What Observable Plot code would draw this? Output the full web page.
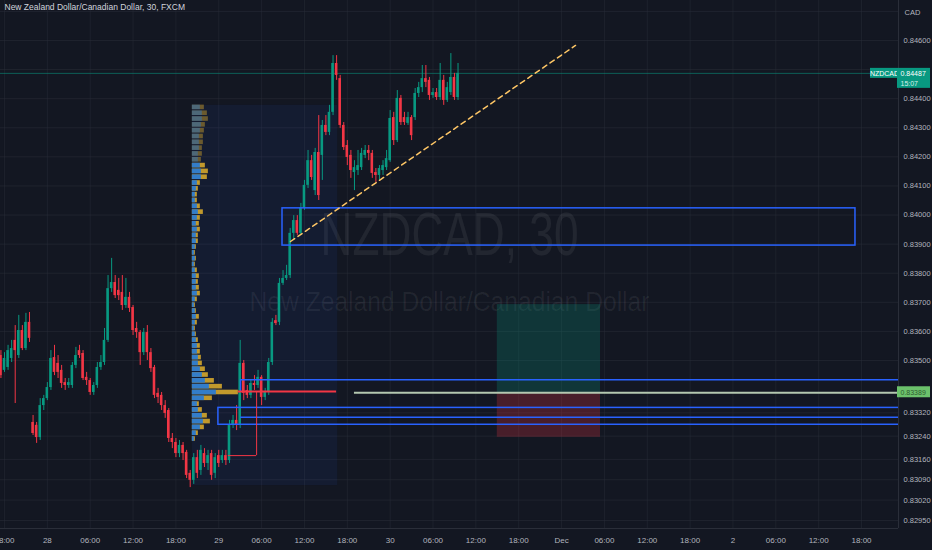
<!DOCTYPE html>
<html><head><meta charset="utf-8">
<script src="https://cdn.jsdelivr.net/npm/d3@7"></script>
<script src="https://cdn.jsdelivr.net/npm/@observablehq/plot@0.6"></script>
<style>
html,body{margin:0;padding:0;background:#131722;}
#chart{width:932px;height:550px;overflow:hidden;}
</style></head><body><div id="chart"></div>
<script>
// ---- Data (NZDCAD, 30 min, FXCM) ----
const title = "New Zealand Dollar/Canadian Dollar, 30, FXCM";
const symbol = "NZDCAD";
const watermark1 = "NZDCAD, 30";
const watermark2 = "New Zealand Dollar/Canadian Dollar";
const currency = "CAD";
const lastPrice = 0.84487;
const countdown = "15:07";
const firstBar = -1; // bar index of first candle (bar 0 = 25 Nov 18:00)

const opens = [
0.83517,0.83466,0.83476,0.83507,0.83569,0.83517,0.83603,0.83541,0.83631,0.83287,
0.83277,0.83235,0.83345,0.83369,0.83407,0.83510,0.83490,0.83466,0.83424,0.83414,
0.83414,0.83483,0.83534,0.83524,0.83442,0.83431,0.83390,0.83414,0.83476,0.83493,
0.83569,0.83747,0.83768,0.83741,0.83734,0.83689,0.83717,0.83682,0.83610,0.83596,
0.83527,0.83596,0.83527,0.83476,0.83387,0.83380,0.83345,0.83328,0.83232,0.83218,
0.83180,0.83208,0.83184,0.83112,0.83088,0.83166,0.83122,0.83180,0.83146,0.83180,
0.83112,0.83173,0.83156,0.83173,0.83156,0.83277,0.83294,0.83277,0.83490,0.83397,
0.83380,0.83421,0.83414,0.83442,0.83373,0.83390,0.83493,0.83637,0.83631,0.83765,
0.83782,0.83792,0.83937,0.83981,0.83937,0.84023,0.84102,0.84187,0.84084,0.84215,
0.84205,0.84308,0.84284,0.84353,0.84521,0.84469,0.84308,0.84239,0.84205,0.84146,
0.84153,0.84163,0.84205,0.84222,0.84212,0.84146,0.84136,0.84153,0.84163,0.84187,
0.84335,0.84256,0.84401,0.84335,0.84315,0.84335,0.84335,0.84418,0.84438,0.84469,
0.84463,0.84411,0.84421,0.84404,0.84463,0.84394,0.84421,0.84473,0.84404];
const closes = [
0.83448,0.83507,0.83534,0.83541,0.83534,0.83603,0.83541,0.83631,0.83576,0.83249,
0.83235,0.83345,0.83369,0.83407,0.83507,0.83459,0.83459,0.83421,0.83414,0.83424,
0.83483,0.83517,0.83517,0.83438,0.83431,0.83390,0.83414,0.83476,0.83493,0.83569,
0.83747,0.83768,0.83723,0.83723,0.83689,0.83717,0.83679,0.83603,0.83596,0.83527,
0.83596,0.83527,0.83472,0.83380,0.83373,0.83345,0.83318,0.83232,0.83218,0.83180,
0.83208,0.83180,0.83105,0.83088,0.83166,0.83112,0.83191,0.83146,0.83173,0.83105,
0.83166,0.83146,0.83173,0.83156,0.83277,0.83294,0.83277,0.83490,0.83387,0.83380,
0.83421,0.83414,0.83442,0.83373,0.83390,0.83493,0.83631,0.83627,0.83765,0.83782,
0.83792,0.83937,0.83981,0.83937,0.84023,0.84102,0.84187,0.84129,0.84215,0.84067,
0.84308,0.84284,0.84353,0.84521,0.84480,0.84308,0.84232,0.84198,0.84153,0.84163,
0.84170,0.84212,0.84222,0.84212,0.84143,0.84136,0.84160,0.84170,0.84194,0.84332,
0.84256,0.84401,0.84318,0.84318,0.84335,0.84273,0.84418,0.84438,0.84469,0.84456,
0.84411,0.84421,0.84404,0.84463,0.84394,0.84438,0.84473,0.84404,0.84487];
const highs = [
0.83534,0.83527,0.83552,0.83569,0.83620,0.83655,0.83620,0.83662,0.83665,0.83311,
0.83287,0.83369,0.83380,0.83424,0.83534,0.83552,0.83517,0.83483,0.83438,0.83438,
0.83493,0.83545,0.83552,0.83534,0.83459,0.83438,0.83424,0.83493,0.83517,0.83610,
0.83792,0.83851,0.83792,0.83782,0.83792,0.83782,0.83734,0.83689,0.83631,0.83603,
0.83610,0.83620,0.83541,0.83483,0.83404,0.83390,0.83362,0.83335,0.83249,0.83232,
0.83225,0.83218,0.83191,0.83122,0.83180,0.83191,0.83208,0.83197,0.83191,0.83191,
0.83180,0.83191,0.83191,0.83191,0.83294,0.83311,0.83345,0.83569,0.83500,0.83414,
0.83431,0.83448,0.83466,0.83448,0.83404,0.83507,0.83644,0.83655,0.83782,0.83809,
0.83827,0.83954,0.83998,0.83998,0.84040,0.84119,0.84222,0.84205,0.84229,0.84342,
0.84325,0.84342,0.84377,0.84548,0.84548,0.84480,0.84318,0.84256,0.84222,0.84187,
0.84222,0.84229,0.84239,0.84239,0.84222,0.84160,0.84170,0.84187,0.84222,0.84359,
0.84353,0.84428,0.84411,0.84353,0.84353,0.84342,0.84435,0.84456,0.84514,0.84514,
0.84473,0.84435,0.84435,0.84521,0.84480,0.84456,0.84555,0.84487,0.84521];
const lows = [
0.83438,0.83459,0.83466,0.83493,0.83352,0.83507,0.83534,0.83534,0.83562,0.83242,
0.83215,0.83225,0.83328,0.83362,0.83397,0.83448,0.83438,0.83404,0.83397,0.83404,
0.83404,0.83472,0.83507,0.83431,0.83414,0.83380,0.83380,0.83404,0.83466,0.83483,
0.83562,0.83734,0.83713,0.83706,0.83672,0.83679,0.83665,0.83586,0.83576,0.83483,
0.83517,0.83500,0.83459,0.83369,0.83352,0.83328,0.83301,0.83218,0.83197,0.83166,
0.83166,0.83156,0.83094,0.83063,0.83074,0.83094,0.83105,0.83132,0.83122,0.83088,
0.83094,0.83132,0.83146,0.83139,0.83146,0.83266,0.83259,0.83266,0.83362,0.83369,
0.83369,0.83397,0.83404,0.83345,0.83362,0.83380,0.83483,0.83620,0.83620,0.83758,
0.83775,0.83782,0.83913,0.83930,0.83930,0.84016,0.84091,0.84119,0.84067,0.84050,
0.84119,0.84273,0.84273,0.84342,0.84463,0.84298,0.84222,0.84170,0.84126,0.84084,
0.84136,0.84153,0.84194,0.84187,0.84126,0.84112,0.84119,0.84136,0.84153,0.84181,
0.84239,0.84249,0.84308,0.84308,0.84308,0.84256,0.84325,0.84404,0.84421,0.84438,
0.84394,0.84401,0.84394,0.84394,0.84377,0.84387,0.84411,0.84394,0.84394];

// x axis (bar index -> label)
const timeTickBars = [0,12,24,36,48,60,72,84,96,108,120,132,144,156,168,180,192,204,216,228,240];
const timeTickLabels = ["18:00","28","06:00","12:00","18:00","29","06:00","12:00","18:00","30","06:00","12:00","18:00","Dec","06:00","12:00","18:00","2","06:00","12:00","18:00"];
// price axis
const priceGrid = [0.847,0.846,0.845,0.844,0.843,0.842,0.841,0.840,0.839,0.838,0.837,0.836,0.835,0.8332,0.8324,0.8316,0.8309,0.8302,0.8295];
const priceLabels = [0.846,0.844,0.843,0.842,0.841,0.840,0.839,0.838,0.837,0.836,0.835,0.8332,0.8324,0.8316,0.8309,0.8302,0.8295];

// Visible range volume profile
const vpRange = {startBar: 52.6, endBar: 93.3, low: 0.83070, high: 0.84377};
const vpLevels = [0.84370,0.84350,0.84330,0.84310,0.84290,0.84270,0.84250,0.84230,0.84210,0.84190,
0.84170,0.84150,0.84130,0.84110,0.84090,0.84070,0.84050,0.84030,0.84010,0.83990,
0.83970,0.83950,0.83930,0.83910,0.83890,0.83870,0.83850,0.83830,0.83810,0.83790,
0.83770,0.83750,0.83730,0.83710,0.83690,0.83670,0.83650,0.83630,0.83610,0.83590,
0.83570,0.83550,0.83530,0.83510,0.83490,0.83470,0.83450,0.83430,0.83410,0.83390,
0.83370,0.83350,0.83330,0.83310,0.83290,0.83270,0.83250,0.83230];
const vpTotal = [12,15,16,13,12,11,11,10,10,9,13,16,15,8,6,5,5,8,11,8,7,8,6,6,4,3,4,3,5,7,6,7,8,5,3,4,7,5,3,4,6,8,8,9,10,13,16,22,30,46,20,7,10,15,18,12,6,3];
const vpUp    = [8,10,10,9,8,7,7,7,6,6,8,9,9,5,4,3,3,5,6,5,4,5,4,4,3,2,3,2,3,4,4,4,5,3,2,3,4,3,2,3,4,5,5,6,6,8,10,13,17,24,12,5,6,10,11,8,4,2];
const vpValueAreaHigh = 0.84180;
const vpPoc = 0.83393;

// Drawings
const zoneBox = {bar1: 77.85, bar2: 238.3, low: 0.83895, high: 0.84023};
const trendLine = [{bar: 80.1, price: 0.83909}, {bar: 159.9, price: 0.84583}];
const longPos = {bar1: 138, bar2: 166.9, target: 0.83692, entry: 0.83389, stop: 0.83236};
const entryLineStartBar = 98;
const blueLevels = [{price: 0.83434, bar: 66.1}, {price: 0.83305, bar: 66.1}];
const demandBox = {bar1: 59.9, low: 0.83279, high: 0.83337};
const pocLine = {bar1: 65.5, bar2: 93};
const devPoc = {bar1: 62.7, bar2: 70.6, price: 0.83173};

// ---- Build ----
const xMin = -1.12, xMax = 250.35;
const candles = opens.map((o, i) => ({bar: firstBar + i, open: o, high: highs[i], low: lows[i], close: closes[i]}));
const up = "#089981", down = "#f23645";
const col = d => d.close >= d.open ? up : down;
const vpMax = d3.max(vpTotal), vpWidthBars = 12.9;
const vp = vpLevels.map((p, i) => ({p, total: vpTotal[i], up: vpUp[i], dim: p > vpValueAreaHigh}));
const vpX = v => vpRange.startBar + v / vpMax * vpWidthBars;
const blue = "#2962ff";
const font = "'Liberation Sans Narrow','Arial Narrow','Liberation Sans',Arial,sans-serif";

const plot = Plot.plot({
  width: 932, height: 550,
  marginLeft: 0, marginRight: 34, marginTop: 0, marginBottom: 22,
  style: {background: "#131722", color: "#b2b5be", fontFamily: font, fontSize: "8px", overflow: "visible"},
  x: {domain: [xMin, xMax], axis: null},
  y: {domain: [0.829224, 0.847375], axis: null},
  marks: [
    Plot.gridY(priceGrid, {stroke: "#2a2e39", strokeOpacity: 0.55}),
    Plot.gridX(timeTickBars, {stroke: "#2a2e39", strokeOpacity: 0.45}),
    // watermark
    Plot.text([watermark1], {frameAnchor: "middle", dy: -29, fontSize: 62, fill: "#ffffff", fillOpacity: 0.065, className: "wm1"}),
    Plot.text([watermark2], {frameAnchor: "middle", dy: 38, fontSize: 28, fill: "#ffffff", fillOpacity: 0.065, className: "wm2"}),
    // volume profile background
    Plot.rect([vpRange], {x1: "startBar", x2: "endBar", y1: "low", y2: "high", fill: blue, fillOpacity: 0.07}),
    // long position
    Plot.rect([longPos], {x1: "bar1", x2: "bar2", y1: "entry", y2: "target", fill: up, fillOpacity: 0.24}),
    Plot.rect([longPos], {x1: "bar1", x2: "bar2", y1: "stop", y2: "entry", fill: down, fillOpacity: 0.24}),
    // volume profile rows
    Plot.rect(vp, {x1: vpRange.startBar, x2: d => vpX(d.total), y1: d => d.p - 0.0001, y2: d => d.p + 0.0001, insetTop: 0.6, insetBottom: 0.6, fill: "#d4a72c", fillOpacity: d => d.dim ? 0.45 : 0.9}),
    Plot.rect(vp, {x1: vpRange.startBar, x2: d => vpX(d.up), y1: d => d.p - 0.0001, y2: d => d.p + 0.0001, insetTop: 0.6, insetBottom: 0.6, fill: "#2b7bd2", fillOpacity: d => d.dim ? 0.45 : 0.95}),
    // current price line
    Plot.ruleY([lastPrice], {stroke: up, strokeOpacity: 0.55, strokeWidth: 1}),
    // candles
    Plot.ruleX(candles, {x: "bar", y1: "low", y2: "high", stroke: col, strokeWidth: 1}),
    Plot.rect(candles, {x1: d => d.bar - 0.36, x2: d => d.bar + 0.36, y1: "open", y2: "close", fill: col}),
    // drawings
    Plot.rect([zoneBox], {x1: "bar1", x2: "bar2", y1: "low", y2: "high", stroke: blue, strokeWidth: 1.5, fill: "none"}),
    Plot.line(trendLine, {x: "bar", y: "price", stroke: "#ffc766", strokeWidth: 1.5, strokeDasharray: "5,4"}),
    Plot.ruleY(blueLevels, {y: "price", x1: "bar", x2: xMax, stroke: blue, strokeWidth: 1.5}),
    Plot.rect([demandBox], {x1: "bar1", x2: xMax + 5, y1: "low", y2: "high", stroke: blue, strokeWidth: 1.5, fill: "none", clip: true}),
    Plot.ruleX([blueLevels[0]], {x: "bar", y1: vpPoc, y2: "price", stroke: blue, strokeWidth: 1.5}),
    Plot.ruleY([devPoc], {y: "price", x1: "bar1", x2: "bar2", stroke: down, strokeWidth: 1}),
    Plot.ruleX([devPoc], {x: "bar2", y1: "price", y2: vpPoc, stroke: down, strokeWidth: 1}),
    Plot.ruleY([pocLine], {y: vpPoc, x1: "bar1", x2: "bar2", stroke: down, strokeWidth: 2}),
    Plot.ruleY([longPos], {y: "entry", x1: entryLineStartBar, x2: xMax, stroke: "#b4c8b0", strokeWidth: 2}),
    // price scale border
    Plot.ruleX([xMax], {stroke: "#2a2e39"}),
    Plot.ruleY([0.829224], {stroke: "#2a2e39"}),
    // axes
    Plot.axisX(timeTickBars, {anchor: "bottom", tickSize: 0, tickPadding: 9, tickFormat: (d, i) => timeTickLabels[i], fill: "#b2b5be"}),
    Plot.axisY(priceLabels, {anchor: "right", tickSize: 0, tickPadding: 5, tickFormat: d => d.toFixed(5), fill: "#b2b5be", fontSize: 7.5}),
    Plot.text([currency], {x: xMax, frameAnchor: "top", dy: 9, dx: 6, textAnchor: "start", fill: "#b2b5be", fontSize: 7.5}),
    // price labels on scale
    Plot.rect([lastPrice], {x1: xMax, x2: xMax, y1: d => d, y2: d => d, insetLeft: -28, insetRight: 1, insetTop: -5, insetBottom: -5, fill: up}),
    Plot.text([symbol], {x: xMax, y: d => lastPrice, dx: -14, fill: "#ffffff", fontSize: 7}),
    Plot.rect([lastPrice], {x1: xMax, x2: xMax, y1: d => d, y2: d => d, insetLeft: -1, insetRight: -32, insetTop: -5, insetBottom: -15, fill: up}),
    Plot.text([lastPrice], {x: xMax, y: d => d, dx: 2, textAnchor: "start", text: d => d.toFixed(5), fill: "#ffffff", fontSize: 7}),
    Plot.text([countdown], {x: xMax, y: d => lastPrice, dx: 2, dy: 10, textAnchor: "start", fill: "#d8efe9", fontSize: 7}),
    Plot.rect([longPos], {x1: xMax, x2: xMax, y1: "entry", y2: "entry", insetLeft: -1, insetRight: -32, insetTop: -6, insetBottom: -5, fill: "#6cc26c"}),
    Plot.text([longPos], {x: xMax, y: "entry", dx: 2, textAnchor: "start", text: d => d.entry.toFixed(5), fill: "#2f5a2f", fontSize: 7}),
    // title
    Plot.text([title], {frameAnchor: "top-left", dx: 4, dy: 7, textAnchor: "start", lineAnchor: "middle", fill: "#d1d4dc", fontSize: 8.5})
  ]
});
const svg = d3.select(plot);
svg.selectAll(".wm1 text").attr("textLength", 258).attr("lengthAdjust", "spacingAndGlyphs");
svg.selectAll(".wm2 text").attr("textLength", 400).attr("lengthAdjust", "spacingAndGlyphs");
document.getElementById("chart").appendChild(plot);
</script>
</body></html>
